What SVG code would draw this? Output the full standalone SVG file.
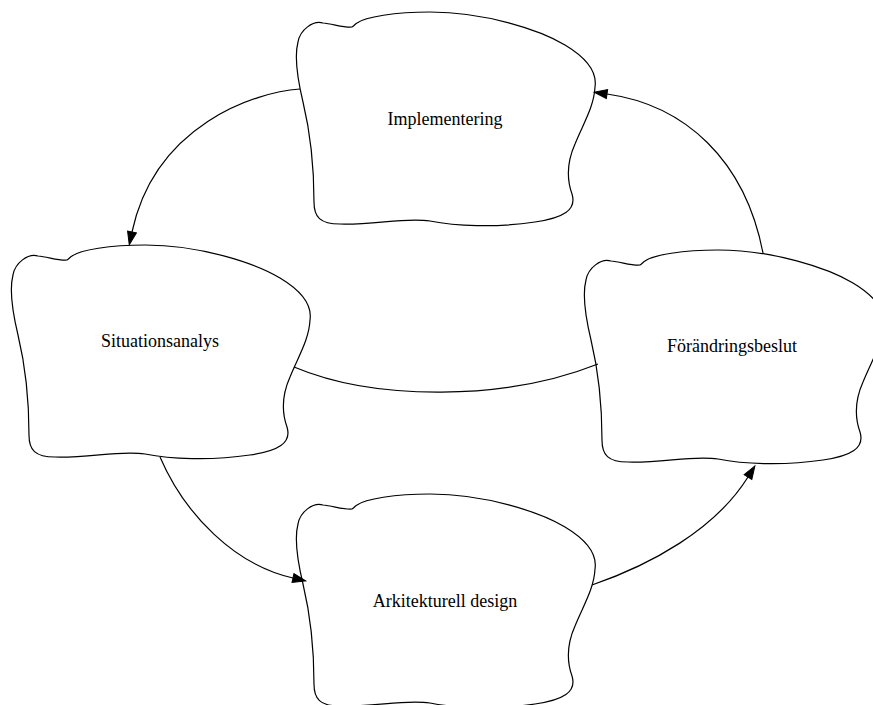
<svg xmlns="http://www.w3.org/2000/svg" xmlns:xlink="http://www.w3.org/1999/xlink" width="873" height="705" viewBox="0 0 873 705">
  <style>
    .blob { fill: #ffffff; stroke: #000000; stroke-width: 1.2; }
    .edge { fill: none; stroke: #000000; stroke-width: 1.2; }
    .label { font-family: "Liberation Serif", "Times New Roman", serif; font-size: 18px; fill: #000000; text-anchor: middle; }
  </style>
  <defs>
    <!-- irregular cloud-like node outline, 300 x 213 -->
    <path id="cloud" d="M28,11 C38,12 50,16 57,15 C59,14 60,12 62,11 C70,5 100,0 135,0 C190,0 245,18 270,33 C295,48 302,62 300,75 C299,95 288,112 280,132 C272,150 272,168 277,182 C282,198 268,206 240,210 C200,216 160,214 135,209 C110,205 80,213 45,212 C25,212 19,205 19,190 C19,150 14,115 8,90 C2,65 -1,45 3,30 C5,18 18,8 28,11 Z"/>
    <marker id="arrow" markerUnits="userSpaceOnUse" markerWidth="14" markerHeight="10" refX="0" refY="5" orient="auto" overflow="visible">
      <path d="M0,0.5 L13,5 L0,9.5 Z" fill="#000000" stroke="#000000" stroke-width="1"/>
    </marker>
  </defs>

  <g id="node-implementering">
    <use xlink:href="#cloud" href="#cloud" class="blob" transform="translate(295,12)"/>
    <text class="label" x="445" y="125">Implementering</text>
  </g>
  <g id="node-situationsanalys">
    <use xlink:href="#cloud" href="#cloud" class="blob" transform="translate(10,245)"/>
    <text class="label" x="160" y="347">Situationsanalys</text>
  </g>
  <g id="node-forandringsbeslut">
    <use xlink:href="#cloud" href="#cloud" class="blob" transform="translate(583,250)"/>
    <text class="label" x="732" y="352">Förändringsbeslut</text>
  </g>
  <g id="node-arkitekturell-design">
    <use xlink:href="#cloud" href="#cloud" class="blob" transform="translate(295,494)"/>
    <text class="label" x="445" y="607">Arkitekturell design</text>
  </g>

  <g id="connectors">
    <path class="edge" d="M300,89 C255,92 155,125 132,232" marker-end="url(#arrow)"/>
    <path class="edge" d="M763,253 C745,160 685,105 607,94" marker-end="url(#arrow)"/>
    <path class="edge" d="M294,367 C375,401 505,401 598,364"/>
    <path class="edge" d="M160,457 C185,515 235,565 293,578" marker-end="url(#arrow)"/>
    <path class="edge" d="M592,585 C650,565 715,530 748,477" marker-end="url(#arrow)"/>
  </g>
</svg>
